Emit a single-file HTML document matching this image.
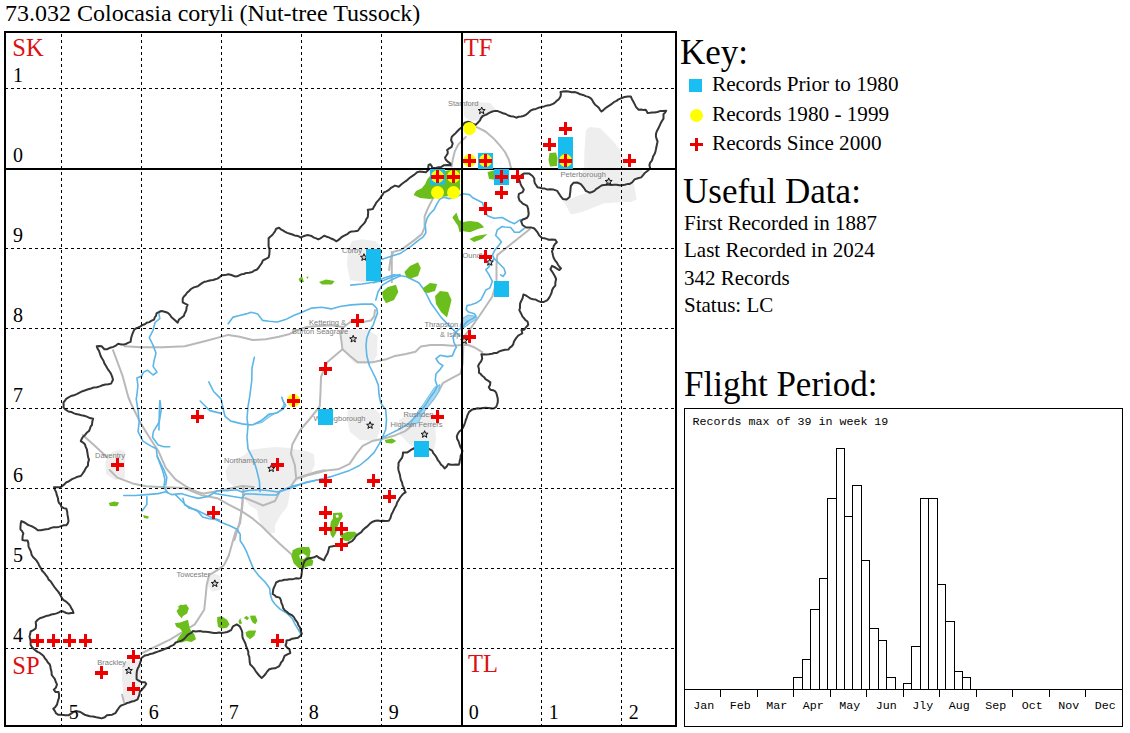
<!DOCTYPE html>
<html><head><meta charset="utf-8"><style>
html,body{margin:0;padding:0;background:#fff;width:1130px;height:733px;overflow:hidden}
svg{display:block}
</style></head><body>
<svg width="1130" height="733" viewBox="0 0 1130 733">
<rect width="1130" height="733" fill="#fff"/>
<polygon points="584.5,150.0 586.0,130.0 590.0,127.0 600.0,128.0 612.0,140.0 620.4,150.0 626.0,168.0 640.0,168.0 645.0,173.5 634.0,180.0 624.0,186.0 610.0,185.0 598.0,187.0 589.0,192.7 583.0,187.0 578.0,182.0 584.0,168.0" fill="#eeeeee"/>
<polygon points="561.0,198.3 570.0,199.0 580.0,195.0 594.4,190.9 602.0,186.0 622.0,186.0 634.0,184.0 636.6,199.6 631.0,202.0 624.2,202.0 604.3,203.3 582.0,212.0 570.9,214.4 564.7,203.3" fill="#eeeeee"/>
<polygon points="463.7,105.0 475.0,102.0 490.0,103.0 496.4,110.0 488.0,114.0 480.0,120.6 470.0,121.0 464.0,116.0" fill="#eeeeee"/>
<polygon points="347.9,250.0 352.0,241.0 362.0,239.3 375.0,241.0 382.2,248.0 382.2,282.2 365.0,282.2 350.0,280.0 347.0,265.0" fill="#eeeeee"/>
<polygon points="341.5,330.0 352.0,328.7 368.0,330.0 377.5,336.0 377.0,355.0 372.0,363.8 355.0,363.8 345.0,352.0 341.5,340.0" fill="#eeeeee"/>
<polygon points="348.0,410.0 362.0,408.2 375.0,409.0 380.8,415.0 380.0,430.0 376.0,440.9 360.0,440.0 350.0,432.0 347.0,420.0" fill="#eeeeee"/>
<polygon points="398.8,420.0 410.0,413.1 425.0,413.1 434.8,420.0 436.0,440.0 434.0,449.1 425.0,449.0 410.0,445.0 400.0,435.0" fill="#eeeeee"/>
<polygon points="249.5,450.0 260.0,448.5 275.0,447.0 287.0,447.8 299.0,450.0 308.0,451.5 314.0,454.5 314.8,465.0 311.0,472.5 305.0,478.5 299.0,480.0 293.0,484.5 290.0,492.0 288.5,501.0 287.0,507.0 281.0,514.5 275.0,525.0 275.0,532.5 269.0,534.0 263.0,528.0 258.5,519.0 257.0,510.0 249.5,505.5 245.0,499.5 243.5,492.0 233.0,486.0 227.0,480.0 225.5,471.0 228.5,465.0 234.5,460.5 245.0,454.5" fill="#eeeeee"/>
<polygon points="105.3,462.0 112.0,452.0 120.0,449.4 125.0,452.0 125.0,478.0 115.0,480.1 106.0,474.0" fill="#eeeeee"/>
<polygon points="207.5,576.0 214.0,573.5 220.6,576.0 220.6,590.0 212.0,591.5 207.5,585.0" fill="#eeeeee"/>
<polygon points="122.1,663.0 130.0,660.2 141.2,661.0 141.2,680.0 138.0,700.0 130.0,702.2 124.0,700.0 122.1,680.0" fill="#eeeeee"/>
<polyline points="141.0,347.3 162.8,347.3 184.7,346.2 206.5,340.8 228.3,334.9 239.6,336.8 252.7,340.0 265.8,339.2 278.9,336.8 288.8,334.3 297.0,330.2 306.8,327.0 318.2,326.1 331.3,325.3 343.0,327.0" fill="none" stroke="#b9b9b9" stroke-width="2" stroke-linejoin="round" stroke-linecap="round"/>
<polyline points="124.5,346.3 141.0,347.3" fill="none" stroke="#b9b9b9" stroke-width="2" stroke-linejoin="round" stroke-linecap="round"/>
<polyline points="113.0,350.2 122.6,375.9 128.3,397.0 131.5,404.8 141.0,423.9 150.6,439.2 158.2,450.7 165.8,467.9 175.4,479.3 186.8,487.0 196.4,491.7 204.0,493.6 219.3,490.8 242.2,486.0 253.7,487.0" fill="none" stroke="#b9b9b9" stroke-width="2" stroke-linejoin="round" stroke-linecap="round"/>
<polyline points="82.8,435.0 95.0,446.0 107.4,457.6" fill="none" stroke="#b9b9b9" stroke-width="2" stroke-linejoin="round" stroke-linecap="round"/>
<polyline points="109.6,470.0 117.3,477.6 132.6,483.4 145.9,486.2 165.0,487.2 184.1,488.1 200.9,494.9 217.3,498.2 228.8,504.7 241.9,511.3 251.7,517.8 261.5,526.0 271.3,535.8 280.0,544.0 290.3,553.2 297.4,562.1" fill="none" stroke="#b9b9b9" stroke-width="2" stroke-linejoin="round" stroke-linecap="round"/>
<polyline points="243.5,490.0 241.9,506.4 240.2,522.7 235.3,532.6 232.0,544.0 228.8,555.5 223.9,565.3 217.3,570.2 209.1,575.1 206.7,585.0 205.8,594.8 204.2,610.0 203.4,611.0 194.8,624.4 179.5,633.9 170.0,639.7 141.2,653.5" fill="none" stroke="#b9b9b9" stroke-width="2" stroke-linejoin="round" stroke-linecap="round"/>
<polyline points="342.5,349.2 327.2,362.3 321.0,377.0 320.5,392.0 319.8,406.4 309.3,419.5 300.2,430.0 292.3,444.4 291.0,453.6 294.9,465.3 296.2,478.4 291.0,486.3" fill="none" stroke="#b9b9b9" stroke-width="2" stroke-linejoin="round" stroke-linecap="round"/>
<polyline points="296.2,478.4 315.9,473.2 326.3,470.6 338.1,469.3 349.6,463.9 356.2,454.0 362.7,445.8 372.6,440.9 384.0,438.5 395.5,435.2 405.3,431.1 412.7,425.0 419.6,414.6 426.4,407.8 433.2,399.6 438.7,391.4 442.8,383.2 452.3,377.8 460.5,373.7 462.6,364.1 463.3,346.4 464.5,335.8 471.1,327.6 480.0,315.0 492.4,296.5 496.5,281.3 496.5,265.0 497.3,255.1 530.0,229.0" fill="none" stroke="#b9b9b9" stroke-width="2" stroke-linejoin="round" stroke-linecap="round"/>
<polyline points="342.5,349.2 350.0,356.0 357.8,362.2 372.6,362.2 387.3,358.9 395.0,355.9 405.9,353.9 415.5,351.8 420.9,346.4 430.5,345.0 442.8,345.0 452.3,345.7 461.9,345.0 467.5,344.7 474.0,347.2 482.2,352.1" fill="none" stroke="#b9b9b9" stroke-width="2" stroke-linejoin="round" stroke-linecap="round"/>
<polyline points="391.8,251.7 391.8,282.2" fill="none" stroke="#b9b9b9" stroke-width="2" stroke-linejoin="round" stroke-linecap="round"/>
<polyline points="389.1,270.0 390.5,260.0 393.2,251.9 401.4,249.8 415.0,239.6 421.8,234.1 424.6,227.3 424.6,216.4 427.3,209.6 430.0,204.1 432.8,198.6 440.0,187.0" fill="none" stroke="#b9b9b9" stroke-width="2" stroke-linejoin="round" stroke-linecap="round"/>
<polyline points="476.8,127.1 485.5,131.5 494.2,139.1 500.0,145.7 505.0,152.0 509.0,160.0 511.0,168.0" fill="none" stroke="#b9b9b9" stroke-width="2" stroke-linejoin="round" stroke-linecap="round"/>
<polyline points="465.8,136.9 458.2,144.6 454.9,151.1 452.7,159.8 451.7,166.4" fill="none" stroke="#b9b9b9" stroke-width="2" stroke-linejoin="round" stroke-linecap="round"/>
<polyline points="122.1,694.6 124.0,702.2" fill="none" stroke="#b9b9b9" stroke-width="2" stroke-linejoin="round" stroke-linecap="round"/>
<polyline points="343.0,327.5 351.3,321.3 362.7,322.1 370.9,320.5 374.2,316.4 375.0,310.0" fill="none" stroke="#b9b9b9" stroke-width="2" stroke-linejoin="round" stroke-linecap="round"/>
<polyline points="342.5,349.2 340.5,334.3 343.0,327.5" fill="none" stroke="#b9b9b9" stroke-width="2" stroke-linejoin="round" stroke-linecap="round"/>
<polyline points="279.5,492.0 275.0,501.0 263.0,505.5 252.5,501.0 245.0,498.0" fill="none" stroke="#b9b9b9" stroke-width="2" stroke-linejoin="round" stroke-linecap="round"/>
<polyline points="296.8,478.5 305.0,475.5 317.0,471.8 325.0,470.3" fill="none" stroke="#b9b9b9" stroke-width="2" stroke-linejoin="round" stroke-linecap="round"/>
<polyline points="243.5,486.0 242.8,499.5 242.0,510.0 239.0,525.0 234.5,540.0" fill="none" stroke="#b9b9b9" stroke-width="2" stroke-linejoin="round" stroke-linecap="round"/>
<polygon points="253.0,424.7 260.9,420.8 268.7,414.3 276.6,413.0 283.1,409.0 285.7,405.1 283.1,401.2 281.8,397.2 284.0,404.0 281.0,410.0 270.0,416.5 262.0,422.5" fill="#a8d8f0" stroke="#6cc0ea" stroke-width="1"/>
<polygon points="434.6,387.3 429.1,395.5 423.7,403.7 419.6,409.2 414.1,417.4 410.0,425.6 413.0,424.0 418.2,422.8 422.3,414.6 429.1,405.1 434.6,398.3 438.7,391.4 440.0,384.6" fill="#a8d8f0" stroke="#6cc0ea" stroke-width="1"/>
<polygon points="463.0,318.0 468.0,315.0 474.0,316.0 477.6,318.0 472.0,322.0 466.0,326.0 462.0,329.3 460.0,326.0" fill="#a8d8f0" stroke="#6cc0ea" stroke-width="1"/>
<polyline points="123.8,495.5 135.3,495.5 146.7,494.6 158.2,493.6 165.8,491.7 171.6,494.6 181.1,493.6 190.7,496.5 198.3,498.4 207.9,496.5 217.4,490.8 227.0,490.8 236.5,489.8 242.0,492.0 248.0,490.5 258.5,489.8 267.5,490.5 278.0,492.0 285.5,489.0 293.0,486.0 305.0,483.0 317.0,480.0 325.0,478.5" fill="none" stroke="#5db6e8" stroke-width="1.6" stroke-linejoin="round" stroke-linecap="round"/>
<polyline points="175.4,494.6 183.0,502.2 188.8,508.0 196.4,509.9 204.0,513.7 211.7,517.5 219.3,520.0" fill="none" stroke="#5db6e8" stroke-width="1.6" stroke-linejoin="round" stroke-linecap="round"/>
<polyline points="215.0,493.5 224.0,495.0 233.0,496.5 242.0,498.0 245.0,494.0 252.0,494.0 260.0,494.5 270.0,495.0 276.5,495.0 279.5,492.0" fill="none" stroke="#5db6e8" stroke-width="1.6" stroke-linejoin="round" stroke-linecap="round"/>
<polyline points="157.2,456.4 163.9,469.8 166.8,477.4 165.8,485.0" fill="none" stroke="#5db6e8" stroke-width="1.6" stroke-linejoin="round" stroke-linecap="round"/>
<polyline points="182.9,498.2 184.6,504.7 191.1,508.0 197.7,511.3 202.6,517.0 209.1,518.7 215.7,519.5 222.2,522.7 230.4,526.0 236.9,529.3 240.2,534.2 240.2,540.8 243.5,545.7 246.8,552.2 250.0,560.4 253.3,568.6 258.2,575.1 264.8,581.7 269.7,588.2 270.2,594.1 272.0,600.0 274.6,603.7 280.0,609.1 286.9,613.2 292.3,618.7 295.0,624.1 299.1,631.0 301.0,634.0" fill="none" stroke="#5db6e8" stroke-width="1.6" stroke-linejoin="round" stroke-linecap="round"/>
<polyline points="146.9,496.7 146.9,504.4 142.1,511.0" fill="none" stroke="#5db6e8" stroke-width="1.6" stroke-linejoin="round" stroke-linecap="round"/>
<polyline points="158.9,312.9 159.8,318.6 155.0,322.5 153.1,330.1 149.3,337.7 153.1,345.4 156.0,353.0 154.1,360.7 153.1,366.4 157.0,372.1 153.1,375.0 147.4,370.2 143.6,372.1 141.7,375.9 136.9,377.9 137.9,385.5 136.9,395.0 136.2,399.1 138.1,410.6 139.1,422.0 138.1,431.6 142.9,441.1 150.6,445.9 156.3,448.8 157.2,456.4 160.1,464.0 163.0,471.7 164.9,479.3 163.9,487.0 167.7,492.7" fill="none" stroke="#5db6e8" stroke-width="1.6" stroke-linejoin="round" stroke-linecap="round"/>
<polyline points="160.1,401.0 161.1,410.6 159.2,422.0 153.4,431.6 152.5,437.3 158.2,444.9 163.9,446.8 169.7,446.8" fill="none" stroke="#5db6e8" stroke-width="1.6" stroke-linejoin="round" stroke-linecap="round"/>
<polyline points="159.8,400.8 159.4,410.0 158.9,430.0" fill="none" stroke="#5db6e8" stroke-width="1.6" stroke-linejoin="round" stroke-linecap="round"/>
<polyline points="254.4,357.2 252.0,368.0 251.8,380.0 249.9,395.3 248.0,406.7 247.0,418.2 248.0,425.8 247.0,437.3 248.0,448.8 253.7,460.2 256.6,469.8 259.4,481.2 260.0,491.7" fill="none" stroke="#5db6e8" stroke-width="1.6" stroke-linejoin="round" stroke-linecap="round"/>
<polyline points="208.8,381.9 213.6,391.5 221.2,399.1 223.1,408.6 225.0,416.3 230.8,421.1 242.2,423.9 249.9,424.9 253.0,424.7 260.9,420.8 268.7,414.3 276.6,413.0 283.1,409.0 285.7,405.1 283.1,401.2 281.8,397.2" fill="none" stroke="#5db6e8" stroke-width="1.6" stroke-linejoin="round" stroke-linecap="round"/>
<polyline points="200.2,401.0 205.9,406.7 209.8,410.6 221.2,413.4" fill="none" stroke="#5db6e8" stroke-width="1.6" stroke-linejoin="round" stroke-linecap="round"/>
<polyline points="228.2,323.7 233.1,317.1 239.6,315.5 246.2,313.9 251.1,312.2 257.7,313.9 262.6,320.4 269.1,321.2 277.3,322.0 285.5,319.6 293.7,315.5 301.9,312.2 311.7,308.1 321.5,307.3 331.3,308.9 340.0,306.5 351.3,304.9 362.7,304.1 372.6,304.1 376.7,308.2 377.5,313.1 375.0,319.6 373.4,324.6 369.3,331.1 366.8,337.7 366.0,345.8 366.8,355.7 369.3,365.5 372.6,372.0 375.8,378.6 378.3,385.1 379.1,395.0 380.8,403.1 385.7,409.8 386.5,419.6 385.7,429.5 382.4,437.7" fill="none" stroke="#5db6e8" stroke-width="1.6" stroke-linejoin="round" stroke-linecap="round"/>
<polyline points="375.8,300.0 378.0,292.0 382.2,285.1 390.0,280.5 400.0,276.0" fill="none" stroke="#5db6e8" stroke-width="1.6" stroke-linejoin="round" stroke-linecap="round"/>
<polyline points="350.7,285.1 362.0,284.0 372.0,282.5 382.2,281.0 392.0,277.0 400.0,274.6" fill="none" stroke="#5db6e8" stroke-width="1.6" stroke-linejoin="round" stroke-linecap="round"/>
<polyline points="382.2,259.3 392.0,256.0 400.0,253.6 410.9,246.4 417.7,240.9 423.2,236.8 425.9,232.8 425.3,224.6 427.3,217.7 430.0,213.7 434.1,209.6 436.8,204.1 439.6,199.3 443.7,197.3 449.1,198.6 454.6,197.3 462.9,193.7 469.5,194.6 472.7,197.8 477.7,200.3 482.6,202.7 484.2,209.3 487.5,215.8 494.0,218.3 502.2,217.5 509.8,221.8 514.5,223.7 519.3,220.3 521.0,219.5" fill="none" stroke="#5db6e8" stroke-width="1.6" stroke-linejoin="round" stroke-linecap="round"/>
<polyline points="280.0,491.6 291.0,488.0 305.4,482.4 318.5,479.8 330.0,476.9 339.8,473.7 349.6,470.4 359.5,465.5 367.7,458.9 374.2,452.4 379.1,444.2 382.4,437.7 388.9,434.4 398.8,429.5 408.0,424.0 414.1,418.0 418.2,414.0 422.3,409.2 426.4,403.7 430.5,396.9 434.6,391.4 437.3,386.0 435.3,380.5 436.0,373.7 440.0,369.6 442.8,365.5 438.7,362.8 436.0,358.7 440.0,355.3 446.9,356.6 452.3,355.9 455.1,349.1 456.4,347.3 453.9,342.4 453.1,337.5 455.5,332.6 458.8,329.3 462.9,327.6 464.5,324.4 467.8,321.1 472.7,318.6 476.0,316.2 474.4,313.7 468.6,312.1 466.2,309.6 467.0,305.5 471.1,304.7 476.0,303.1 480.9,299.8 483.4,294.9 485.8,290.0 489.9,287.9 492.4,281.3 489.1,274.8 485.8,269.9 489.1,266.6 494.0,258.4 492.4,255.1 494.8,250.2 498.9,245.3 501.4,242.0 498.9,238.8 495.7,235.5 497.3,229.8 502.2,226.5 505.0,227.0 510.7,227.5 514.5,232.3 519.3,232.3 524.1,228.5" fill="none" stroke="#5db6e8" stroke-width="1.6" stroke-linejoin="round" stroke-linecap="round"/>
<polyline points="494.0,258.4 498.9,263.3 503.9,268.2 505.5,273.1 503.0,276.4 500.6,274.8" fill="none" stroke="#5db6e8" stroke-width="1.6" stroke-linejoin="round" stroke-linecap="round"/>
<polyline points="373.7,282.8 384.0,278.0 394.2,274.7 406.5,276.7 418.8,282.8 424.9,291.0 431.0,303.3 441.3,317.6 451.5,327.9 459.7,336.1" fill="none" stroke="#5db6e8" stroke-width="1.6" stroke-linejoin="round" stroke-linecap="round"/>
<polygon points="549.5,153.0 556.0,152.5 557.5,158.0 557.0,166.0 550.0,166.5 548.5,160.0" fill="#6cbe1c"/>
<polygon points="452.3,217.5 456.4,212.6 459.0,220.0 463.0,222.0 470.0,221.0 478.0,222.0 481.0,224.0 484.2,227.3 478.0,229.0 470.0,232.2 462.0,231.0 459.6,232.2 458.0,226.0" fill="#6cbe1c"/>
<polygon points="469.5,239.0 476.0,236.0 487.5,233.9 482.0,239.0 474.0,242.0" fill="#6cbe1c"/>
<polygon points="487.5,172.0 495.7,170.0 495.7,179.8 489.0,179.0" fill="#6cbe1c"/>
<polygon points="413.6,195.0 416.0,191.0 421.8,188.2 425.2,184.1 427.3,179.3 430.0,176.0 440.0,172.0 455.0,169.0 460.0,169.0 460.0,190.0 450.0,196.0 440.0,197.0 430.0,199.0 420.0,198.0" fill="#6cbe1c"/>
<polygon points="382.0,292.0 388.0,287.0 396.0,284.7 398.3,292.0 394.0,300.0 386.0,303.2 383.0,298.0" fill="#6cbe1c"/>
<polygon points="404.4,272.0 410.0,266.0 418.0,262.3 420.8,268.0 418.0,276.0 410.0,278.8 406.0,276.0" fill="#6cbe1c"/>
<polygon points="298.6,279.0 302.0,276.2 304.0,281.9 300.0,281.9" fill="#6cbe1c"/>
<polygon points="306.0,277.0 308.4,276.5 308.0,279.0" fill="#6cbe1c"/>
<polygon points="319.0,282.0 326.0,279.5 334.6,281.0 332.0,284.4 322.0,284.4" fill="#6cbe1c"/>
<polygon points="423.0,288.0 430.0,283.0 437.2,284.0 435.0,291.0 428.0,293.0 424.0,292.0" fill="#6cbe1c"/>
<polygon points="435.1,296.0 440.0,291.1 448.0,292.0 451.5,300.0 449.0,310.0 447.0,317.6 441.0,312.0 436.0,304.0" fill="#6cbe1c"/>
<polygon points="108.7,503.0 114.0,501.5 119.2,502.5 117.0,506.3 110.0,506.0" fill="#6cbe1c"/>
<polygon points="143.1,515.0 148.8,516.5 148.0,518.7 144.0,518.0" fill="#6cbe1c"/>
<polygon points="292.6,550.2 297.0,548.0 302.5,547.0 309.0,547.0 310.6,551.3 309.6,556.8 313.4,561.1 312.3,565.5 306.8,566.6 302.5,569.9 298.1,567.7 293.7,563.3 291.5,556.8" fill="#6cbe1c"/>
<polygon points="333.0,513.1 341.8,512.6 342.9,516.4 339.6,521.8 337.4,527.3 336.3,532.7 333.0,538.2 330.8,534.9 329.7,529.5 330.8,521.8 333.0,518.6" fill="#6cbe1c"/>
<polygon points="339.6,534.9 347.2,531.7 354.8,531.7 357.0,533.8 352.7,538.2 348.3,541.5 344.0,540.4" fill="#6cbe1c"/>
<polygon points="176.5,610.9 180.9,605.6 186.2,604.3 188.9,608.3 187.1,613.6 182.7,616.2 181.8,618.5 178.3,614.5" fill="#6cbe1c"/>
<polygon points="174.7,623.3 180.0,622.4 188.0,619.8 189.8,628.6 191.5,631.3 194.2,633.9 196.0,639.2 191.5,641.9 186.2,641.0 180.9,642.8 176.5,641.0 179.2,636.6 182.7,632.2 180.0,628.6 176.5,626.9" fill="#6cbe1c"/>
<polygon points="217.2,617.1 221.6,616.2 227.0,619.8 229.6,624.2 227.0,627.7 221.6,628.6 218.1,626.9 217.2,621.5" fill="#6cbe1c"/>
<polygon points="238.5,621.5 240.2,618.0 242.0,623.3 239.8,624.6" fill="#6cbe1c"/>
<polygon points="243.8,618.0 246.4,615.8 249.1,618.0 247.3,620.2" fill="#6cbe1c"/>
<polygon points="250.0,615.8 255.3,615.4 257.5,620.7 255.3,624.2 252.6,622.4 250.8,618.9" fill="#6cbe1c"/>
<polygon points="245.5,632.2 249.1,630.4 256.2,630.4 254.4,635.7 250.0,639.2 246.4,636.6" fill="#6cbe1c"/>
<polygon points="384.8,440.0 392.0,438.5 396.3,441.0 392.0,443.4 386.0,443.0" fill="#6cbe1c"/>
<polygon points="177.5,607.0 181.0,604.6 184.0,606.0 182.0,609.0" fill="#6cbe1c"/>
<polygon points="299.2,555.0 303.0,553.5 306.8,556.0 304.0,559.0 300.0,558.5" fill="#fff"/>
<polygon points="335.5,515.5 338.0,514.5 339.0,517.0 336.5,518.0" fill="#fff"/>
<polygon points="462.0,127.1 463.2,124.8 464.7,122.7 468.0,121.7 470.7,122.5 473.1,124.0 475.7,124.9 477.8,122.7 480.0,120.4 481.0,118.0 482.7,116.0 484.9,115.1 487.1,114.2 489.7,112.7 492.4,111.5 495.0,110.9 497.7,111.1 500.3,112.2 503.0,113.3 505.8,114.0 508.3,115.5 511.0,116.2 513.7,116.6 516.3,117.7 518.6,116.8 521.0,116.5 523.4,116.0 525.8,114.9 527.8,113.3 530.4,110.7 533.0,109.5 535.8,108.9 538.4,107.8 541.1,107.1 544.2,106.4 547.3,105.4 550.5,104.9 553.5,103.6 555.3,102.2 557.0,100.6 558.8,99.2 560.5,96.5 560.9,94.3 560.5,92.1 563.2,91.6 565.9,91.2 568.5,91.6 571.7,92.2 575.0,92.1 577.7,93.0 580.3,94.3 583.1,94.9 585.6,96.1 588.4,96.9 590.9,98.3 592.4,100.4 593.6,102.7 595.1,104.7 597.1,106.2 598.8,107.8 600.0,109.8 601.5,111.5 603.4,110.1 605.0,108.5 606.9,107.1 609.6,105.4 612.2,103.6 614.2,101.9 616.6,100.9 618.6,99.3 621.0,98.3 624.6,97.0 627.7,96.5 630.8,96.5 632.0,99.2 633.4,101.8 634.8,104.4 636.1,107.1 638.7,109.8 641.1,109.6 643.4,109.9 645.8,109.8 647.6,112.9 649.9,112.7 652.3,112.4 654.6,112.4 657.4,112.0 660.0,111.1 663.1,111.1 666.2,110.7 665.0,112.6 663.5,114.2 663.5,118.6 662.1,120.8 660.8,123.1 659.6,125.7 658.4,128.3 656.7,131.5 656.0,133.9 655.9,136.5 656.6,139.0 657.6,141.4 656.7,145.5 655.9,149.5 655.3,152.1 654.3,154.5 653.1,156.4 652.6,158.6 651.7,160.8 650.2,162.6 649.4,165.1 650.2,168.4 647.7,170.8 644.5,173.3 642.9,175.4 641.2,177.4 637.9,178.2 634.6,179.4 632.2,182.3 629.7,183.9 627.2,184.1 624.8,184.7 621.7,185.3 619.2,185.3 616.7,184.7 614.2,184.7 611.8,185.1 609.3,184.7 606.8,184.7 604.3,184.9 601.9,185.3 600.0,186.5 598.1,187.8 596.0,189.1 594.4,190.9 592.0,192.0 589.5,192.7 585.8,190.9 584.7,189.0 583.3,187.2 580.8,184.1 577.1,182.5 573.4,182.8 570.9,185.9 570.5,189.0 570.3,192.1 569.9,194.6 569.6,197.1 566.6,199.6 562.8,198.9 560.4,195.8 558.8,193.4 557.3,190.9 553.5,189.6 550.4,189.3 547.3,189.6 544.9,188.6 542.4,188.4 539.9,187.8 537.4,187.2 536.3,185.3 535.0,183.5 534.3,181.1 534.3,178.5 532.5,176.0 529.3,173.6 526.5,173.4 523.8,173.6 521.3,175.2 519.0,177.0 519.1,179.5 520.0,181.8 520.6,184.1 521.7,186.2 523.8,189.5 522.7,192.2 518.9,193.8 518.4,197.1 519.5,200.4 521.2,201.9 522.7,203.7 524.9,204.7 527.1,205.8 528.2,209.1 528.3,211.3 528.7,213.5 528.3,215.8 527.1,217.8 524.9,218.7 522.7,219.5 521.1,221.1 522.5,225.0 526.0,227.5 529.1,227.5 531.6,227.6 534.0,228.3 535.9,230.3 537.6,232.4 538.9,234.8 540.4,236.6 542.2,238.1 544.4,238.3 546.6,238.9 548.7,239.7 552.0,239.6 555.3,239.7 556.9,242.2 555.0,244.0 553.6,246.3 553.2,248.9 552.0,251.2 552.6,253.4 553.0,255.5 553.6,257.7 555.0,260.3 556.9,262.6 558.0,264.7 559.4,266.7 561.0,268.4 559.4,270.0 557.2,268.9 555.3,267.5 552.0,265.9 550.4,269.2 552.1,271.6 553.6,274.1 555.0,276.5 556.1,279.0 555.4,282.2 555.3,285.5 553.3,287.8 552.0,290.5 551.5,293.0 550.4,295.4 549.0,298.0 547.1,300.3 543.8,301.9 540.5,301.9 537.9,300.9 535.6,299.5 533.1,299.3 530.7,298.6 528.2,297.0 525.8,295.4 523.4,294.5 522.5,298.6 521.2,301.0 520.1,303.5 520.0,305.7 520.0,308.0 519.3,310.1 520.4,312.2 521.5,314.4 522.5,316.6 524.1,318.3 525.5,320.2 527.5,321.5 528.3,324.8 526.1,327.1 524.2,329.7 521.5,330.0 522.3,333.3 520.2,334.5 518.2,335.7 516.5,337.7 515.0,339.8 513.8,341.9 513.2,344.4 511.7,346.4 509.8,347.7 508.4,349.6 505.1,349.8 501.9,350.5 499.3,351.4 497.0,352.9 494.5,353.0 492.0,353.7 488.8,354.2 485.5,354.6 481.4,354.2 481.9,356.4 482.2,358.7 481.1,361.3 479.4,363.5 478.1,366.0 478.8,368.2 479.0,370.4 478.9,372.6 480.7,374.0 482.2,375.8 484.1,377.2 485.5,379.1 488.0,380.6 490.4,382.4 490.0,385.0 488.8,387.3 490.4,389.8 493.0,390.2 495.3,391.4 496.4,393.3 497.0,395.5 497.8,398.7 497.8,402.0 497.1,404.5 496.1,407.0 494.2,408.2 492.0,408.6 488.8,407.9 485.5,407.8 482.8,407.9 480.1,408.4 477.3,408.3 474.9,409.1 472.4,409.4 469.1,411.9 467.5,415.1 466.8,417.6 465.8,420.0 465.1,422.5 464.2,425.0 462.6,428.2 461.2,430.1 459.3,431.5 457.8,433.8 456.8,436.4 457.2,439.0 458.5,441.3 459.3,443.7 460.1,446.2 461.3,448.4 462.4,450.6 461.9,453.4 460.6,456.0 460.5,458.3 459.8,460.4 459.5,462.6 458.8,464.8 456.1,464.5 453.5,464.8 450.8,464.7 448.2,464.0 446.7,466.5 444.6,468.4 443.1,466.3 441.1,464.8 439.7,462.4 437.9,460.2 436.7,457.7 435.2,455.3 433.3,453.2 432.2,450.6 428.7,448.9 426.3,448.7 424.0,448.2 421.6,448.1 419.2,448.1 416.9,448.4 414.5,448.0 411.0,449.8 409.3,451.2 407.4,452.4 403.0,452.4 402.8,455.1 402.1,457.7 400.1,460.3 398.5,463.1 398.5,465.5 398.2,467.8 398.5,470.2 399.2,472.5 399.9,474.8 400.3,477.2 400.9,480.0 402.1,482.6 402.6,485.4 403.9,487.9 404.5,490.2 405.6,492.3 403.7,493.4 402.1,495.0 400.1,497.5 398.5,500.3 397.1,502.6 396.4,505.1 395.0,507.4 393.8,509.8 392.7,512.2 391.4,514.5 390.9,516.7 390.1,518.8 388.8,520.7 385.7,520.9 382.6,520.7 380.2,520.9 377.9,520.5 375.5,520.7 372.7,521.7 370.2,523.4 368.4,525.2 366.6,526.9 364.6,528.4 362.8,530.1 361.3,532.2 357.7,534.6 355.6,536.4 354.3,538.8 352.4,540.8 350.1,542.2 347.8,543.4 345.3,544.3 343.1,545.0 340.9,545.5 338.6,545.5 336.4,546.1 334.0,546.0 331.6,546.4 329.3,547.0 328.5,550.1 327.6,553.2 326.3,555.5 325.0,557.8 324.0,560.3 320.5,558.5 318.5,557.5 316.9,555.9 313.4,557.6 310.7,557.9 308.0,558.5 306.0,559.6 304.5,561.2 303.4,564.2 302.7,567.4 302.0,570.0 301.8,572.7 301.4,575.4 300.9,578.0 298.6,578.6 296.2,578.3 293.9,578.9 291.6,579.3 289.1,579.2 286.8,579.8 284.4,579.7 282.1,580.5 279.7,580.7 276.1,582.5 275.3,584.7 274.3,586.9 273.3,589.2 273.0,591.6 272.6,594.0 274.5,595.1 276.1,596.7 279.7,597.6 280.9,600.1 281.4,602.9 282.6,605.4 283.2,608.2 284.7,610.2 286.8,611.7 288.4,613.3 290.3,614.4 292.3,615.5 293.9,617.1 295.4,619.9 297.4,622.4 298.4,625.2 300.1,627.7 300.8,630.8 301.8,633.9 300.0,635.9 298.0,637.7 295.1,638.2 292.2,638.7 289.5,640.0 286.5,640.6 286.4,643.1 285.5,645.4 287.2,647.6 289.4,649.2 290.3,653.0 287.4,654.3 284.6,655.9 283.6,658.3 282.7,660.7 281.1,662.4 280.2,664.5 278.9,666.4 275.0,668.3 272.1,668.5 269.3,669.3 267.2,671.5 265.5,674.0 263.8,676.1 261.7,677.9 259.6,676.1 257.9,674.0 256.4,672.2 255.1,670.3 254.0,668.3 252.2,666.3 250.2,664.5 249.7,662.0 249.5,659.4 249.3,656.8 248.3,654.4 248.3,651.6 247.3,649.2 246.2,646.4 245.4,643.5 244.0,640.6 242.6,637.7 242.3,635.2 242.3,632.6 241.6,630.1 239.7,626.3 236.8,624.4 233.0,626.3 231.1,630.1 227.3,632.0 224.5,632.6 221.6,633.0 219.0,632.6 216.5,633.0 213.9,633.0 211.1,632.5 208.2,632.0 205.7,631.7 203.1,631.8 200.6,631.1 198.0,631.2 195.5,631.4 192.9,631.1 191.3,632.9 189.1,633.9 187.0,635.6 185.3,637.7 183.6,639.4 181.5,640.6 178.6,641.6 175.7,642.5 173.7,644.9 170.8,646.2 168.0,647.8 165.4,648.7 162.9,649.9 160.3,650.7 157.8,651.6 155.2,652.5 152.7,653.5 150.1,653.9 147.7,655.1 145.0,655.4 143.1,656.8 141.2,658.3 140.7,661.3 139.8,664.2 138.9,666.4 137.7,668.5 136.9,671.1 136.6,673.8 136.6,676.5 136.6,679.1 138.8,680.7 141.9,682.3 145.1,682.3 146.2,683.9 144.6,686.5 141.9,689.7 139.8,691.9 139.3,695.0 138.4,697.1 137.7,699.3 134.5,700.9 131.8,701.5 129.2,702.5 127.0,703.0 125.0,704.1 122.9,704.9 120.7,705.7 119.0,707.7 117.5,709.9 115.4,713.1 112.2,714.7 109.5,714.9 106.9,715.2 104.8,717.3 101.6,718.4 99.0,717.8 96.3,717.3 93.1,716.6 89.9,716.3 87.2,715.5 84.6,714.7 82.5,713.3 80.4,712.0 78.2,711.5 76.1,711.0 73.8,711.7 71.9,713.1 68.7,715.2 65.5,715.2 61.2,714.7 58.1,714.7 55.9,713.1 54.8,710.9 53.3,708.8 55.4,706.9 57.0,704.6 58.1,700.4 59.0,697.8 59.1,695.0 58.6,691.9 55.4,691.9 53.8,689.7 55.9,687.6 57.0,684.4 55.7,681.8 54.9,679.1 53.3,677.0 51.7,674.9 51.5,671.6 50.6,668.5 50.4,666.3 49.6,664.2 47.7,662.3 46.4,660.0 44.8,658.3 43.8,656.3 41.8,654.6 39.8,652.9 37.5,651.9 35.5,650.4 33.6,648.8 31.8,647.0 30.6,644.7 30.6,640.7 29.5,636.6 30.2,634.1 30.6,631.5 33.3,630.2 35.7,628.4 36.1,625.3 35.7,622.2 37.5,620.0 39.8,618.2 42.9,617.3 45.9,616.1 48.7,615.6 51.3,614.5 54.1,614.1 56.6,613.4 59.0,612.4 61.2,611.0 63.8,611.8 66.3,613.0 68.7,613.4 71.1,612.9 73.5,613.0 72.5,610.0 71.1,607.9 70.1,605.6 68.4,603.8 66.0,601.6 63.3,599.8 61.8,597.9 60.7,595.7 59.5,593.6 58.2,591.6 56.5,589.6 54.9,587.7 53.4,585.5 52.0,583.4 50.6,581.2 48.6,579.6 47.5,577.2 45.9,575.2 44.2,572.9 42.1,570.7 40.8,568.1 39.3,565.8 38.2,563.2 36.7,560.9 35.0,558.9 33.0,557.1 31.6,554.8 31.0,551.9 29.8,549.2 28.5,546.6 28.4,543.4 27.5,540.4 24.9,540.6 22.4,540.0 22.5,537.8 22.7,535.5 23.4,533.4 22.1,531.2 20.4,529.3 20.5,526.5 20.7,523.8 21.4,521.1 23.5,522.0 25.5,523.1 27.4,524.5 29.4,525.4 31.6,526.2 33.8,527.4 35.9,528.7 37.8,530.3 40.6,530.3 43.3,529.7 46.0,529.3 48.6,529.0 51.0,527.9 53.6,527.3 56.2,527.2 58.8,526.9 61.3,526.1 63.8,525.3 66.4,525.2 67.8,523.3 68.5,521.1 68.1,518.0 67.5,514.9 67.2,511.8 66.4,508.8 63.7,508.1 61.3,506.7 60.6,504.5 58.9,502.8 58.2,500.6 57.9,497.8 56.8,495.1 56.2,492.4 55.0,489.9 54.1,487.3 57.2,487.3 60.3,487.3 63.4,485.2 66.4,482.2 68.6,481.5 70.5,480.1 72.5,478.9 74.6,478.1 77.6,476.7 80.8,476.0 82.3,474.0 83.8,471.9 85.0,469.7 86.2,467.6 87.9,465.8 88.1,462.6 89.0,459.6 88.1,457.1 87.7,454.6 87.3,452.0 86.9,449.4 85.7,446.9 84.9,444.3 83.0,442.6 80.8,441.2 81.6,439.1 82.8,437.1 84.9,435.1 86.7,432.8 89.0,431.0 89.9,428.9 90.6,426.7 92.0,424.8 92.3,421.7 93.1,418.7 89.9,418.1 86.9,416.6 84.2,415.7 81.4,415.2 78.7,414.6 76.1,414.1 73.6,413.1 71.2,411.9 68.5,411.5 65.7,409.7 63.4,407.4 63.7,405.0 63.4,402.7 64.8,400.8 66.2,398.9 68.6,397.4 71.0,396.0 73.9,395.3 76.7,394.1 79.6,392.6 82.5,391.2 85.4,390.3 88.2,389.3 91.1,388.5 93.9,387.4 96.9,387.3 99.7,386.4 102.5,385.3 105.4,384.5 108.3,384.3 111.1,383.6 113.0,379.8 112.2,376.8 111.1,374.0 109.9,372.0 108.5,370.2 107.3,368.3 105.9,365.8 104.4,363.4 103.5,360.7 101.9,358.3 100.6,355.7 99.7,353.0 98.9,350.7 97.6,348.6 96.8,346.3 99.2,346.0 101.6,346.3 104.4,349.2 107.3,349.2 110.2,347.7 113.3,346.9 115.9,345.6 118.2,343.7 121.3,344.4 124.4,344.4 126.5,343.7 128.5,342.6 130.6,341.9 131.0,338.8 131.8,335.8 132.5,333.7 133.4,331.7 134.3,329.6 136.2,328.3 138.4,327.4 140.5,326.4 142.5,325.0 144.8,324.3 146.7,322.7 149.3,322.1 151.6,320.7 154.1,319.6 154.7,317.5 156.1,315.6 156.5,313.4 158.9,312.0 161.5,311.0 164.6,311.8 167.7,312.8 169.9,314.7 171.5,317.2 173.6,319.0 175.6,320.8 177.7,322.7 178.9,319.6 181.4,317.8 183.9,315.9 184.5,313.7 185.6,311.8 186.4,309.7 186.6,307.1 187.6,304.8 185.1,303.7 182.7,302.3 182.7,298.6 183.9,296.5 185.7,294.8 187.0,292.8 188.8,291.2 191.0,289.0 193.8,287.4 197.8,286.2 199.9,284.6 202.0,283.1 204.3,281.8 206.5,281.4 208.7,280.8 210.9,280.3 213.1,280.0 215.3,279.3 217.4,278.6 219.7,277.1 221.8,275.3 225.1,275.1 228.3,274.2 230.5,274.8 232.7,275.5 234.9,276.4 237.2,276.3 239.2,275.3 241.3,274.3 243.7,274.0 245.8,273.1 249.1,272.7 252.3,272.0 254.3,270.5 256.7,269.8 258.6,267.8 260.0,265.5 261.8,263.1 262.9,260.3 265.8,259.0 268.6,257.4 269.3,254.6 269.5,251.7 269.5,249.1 268.6,246.6 268.6,244.0 268.6,241.2 268.6,238.3 270.2,236.7 272.0,235.3 273.4,233.5 275.0,231.3 276.2,228.8 279.1,227.8 280.8,229.3 282.9,230.4 284.8,231.6 287.2,232.9 289.9,233.7 292.5,234.5 294.5,235.4 296.8,235.8 298.9,236.4 300.9,237.6 302.8,236.5 305.0,235.8 307.1,235.1 309.6,235.4 312.0,236.3 314.0,237.6 316.2,238.4 318.3,239.4 320.4,238.3 322.4,237.0 324.4,235.7 326.8,236.8 329.4,237.6 331.7,238.8 334.1,239.7 336.2,241.3 338.2,240.1 340.1,238.6 341.8,237.0 343.8,235.9 345.8,234.8 347.8,233.8 349.5,232.2 351.7,231.4 354.8,231.3 357.9,230.8 359.3,228.8 360.7,226.9 362.4,225.1 364.1,223.4 365.5,221.4 366.3,219.1 367.8,217.2 368.0,214.7 368.2,212.2 367.8,209.7 370.3,209.4 372.8,209.1 373.9,206.8 375.3,204.6 376.5,202.3 378.3,200.3 380.0,198.3 381.5,196.1 382.8,194.3 383.9,192.4 386.4,191.3 388.8,189.9 390.6,188.2 392.8,186.8 395.0,185.6 398.8,186.8 401.2,184.5 403.8,182.5 406.5,180.7 408.9,178.6 411.1,176.8 413.6,175.2 415.4,173.7 417.1,172.2 419.4,171.6 421.8,171.8 425.9,172.2 428.6,169.8 428.2,167.4 428.6,165.0 430.4,164.3 431.7,166.0 432.1,167.7 436.0,168.0 438.4,167.3 440.9,167.1 443.7,165.3 447.7,165.0 450.5,165.3 450.5,163.6 447.7,161.6 445.7,159.5 445.0,157.5 446.4,155.5 447.7,153.4 447.7,151.4 447.1,150.0 448.4,148.9 451.7,146.8 452.7,143.5 451.1,140.2 451.7,136.9 453.8,134.7 455.6,133.2 457.1,131.5 459.3,129.3" fill="none" stroke="#363636" stroke-width="2" stroke-linejoin="round"/>
<text x="448" y="105.5" font-family="Liberation Sans, sans-serif" font-size="7.5" fill="#7d7d7d">Stamford</text>
<text x="560.5" y="176.5" font-family="Liberation Sans, sans-serif" font-size="7.5" fill="#7d7d7d">Peterborough</text>
<text x="342" y="252.5" font-family="Liberation Sans, sans-serif" font-size="7.5" fill="#7d7d7d">Corby</text>
<text x="462.5" y="257.5" font-family="Liberation Sans, sans-serif" font-size="7.5" fill="#7d7d7d">Oundle</text>
<text x="309" y="325" font-family="Liberation Sans, sans-serif" font-size="7.5" fill="#7d7d7d">Kettering &</text>
<text x="292" y="334" font-family="Liberation Sans, sans-serif" font-size="7.5" fill="#7d7d7d">Burton Seagrave</text>
<text x="424.5" y="327" font-family="Liberation Sans, sans-serif" font-size="7.5" fill="#7d7d7d">Thrapston</text>
<text x="440" y="337" font-family="Liberation Sans, sans-serif" font-size="7.5" fill="#7d7d7d">&amp; Islip</text>
<text x="95" y="457.5" font-family="Liberation Sans, sans-serif" font-size="7.5" fill="#7d7d7d">Daventry</text>
<text x="224" y="463" font-family="Liberation Sans, sans-serif" font-size="7.5" fill="#7d7d7d">Northampton</text>
<text x="313.5" y="420.5" font-family="Liberation Sans, sans-serif" font-size="7.5" fill="#7d7d7d">Wellingborough</text>
<text x="403.5" y="417" font-family="Liberation Sans, sans-serif" font-size="7.5" fill="#7d7d7d">Rushden &amp;</text>
<text x="390.5" y="426.5" font-family="Liberation Sans, sans-serif" font-size="7.5" fill="#7d7d7d">Higham Ferrers</text>
<text x="176.5" y="577" font-family="Liberation Sans, sans-serif" font-size="7.5" fill="#7d7d7d">Towcester</text>
<text x="97.3" y="665" font-family="Liberation Sans, sans-serif" font-size="7.5" fill="#7d7d7d">Brackley</text>
<polygon points="481.7,107.0 482.6,109.4 485.2,109.6 483.2,111.2 483.9,113.7 481.7,112.3 479.5,113.7 480.2,111.2 478.2,109.6 480.8,109.4" fill="#d0d0d0" stroke="#111" stroke-width="1" stroke-linejoin="miter"/>
<polygon points="608.7,177.9 609.6,180.3 612.2,180.5 610.2,182.1 610.9,184.6 608.7,183.2 606.5,184.6 607.2,182.1 605.2,180.5 607.8,180.3" fill="#d0d0d0" stroke="#111" stroke-width="1" stroke-linejoin="miter"/>
<polygon points="364.0,253.7 364.9,256.1 367.5,256.3 365.5,257.9 366.2,260.4 364.0,259.0 361.8,260.4 362.5,257.9 360.5,256.3 363.1,256.1" fill="#d0d0d0" stroke="#111" stroke-width="1" stroke-linejoin="miter"/>
<polygon points="489.8,258.6 490.7,261.0 493.3,261.2 491.3,262.8 492.0,265.3 489.8,263.9 487.6,265.3 488.3,262.8 486.3,261.2 488.9,261.0" fill="#d0d0d0" stroke="#111" stroke-width="1" stroke-linejoin="miter"/>
<polygon points="353.2,335.3 354.1,337.7 356.7,337.9 354.7,339.5 355.4,342.0 353.2,340.6 351.0,342.0 351.7,339.5 349.7,337.9 352.3,337.7" fill="#d0d0d0" stroke="#111" stroke-width="1" stroke-linejoin="miter"/>
<polygon points="370.1,421.7 371.0,424.1 373.6,424.3 371.6,425.9 372.3,428.4 370.1,427.0 367.9,428.4 368.6,425.9 366.6,424.3 369.2,424.1" fill="#d0d0d0" stroke="#111" stroke-width="1" stroke-linejoin="miter"/>
<polygon points="424.6,430.7 425.5,433.1 428.1,433.3 426.1,434.9 426.8,437.4 424.6,436.0 422.4,437.4 423.1,434.9 421.1,433.3 423.7,433.1" fill="#d0d0d0" stroke="#111" stroke-width="1" stroke-linejoin="miter"/>
<polygon points="128.8,667.0 129.7,669.4 132.3,669.6 130.3,671.2 131.0,673.7 128.8,672.3 126.6,673.7 127.3,671.2 125.3,669.6 127.9,669.4" fill="#d0d0d0" stroke="#111" stroke-width="1" stroke-linejoin="miter"/>
<polygon points="214.8,579.9 215.7,582.3 218.3,582.5 216.3,584.1 217.0,586.6 214.8,585.2 212.6,586.6 213.3,584.1 211.3,582.5 213.9,582.3" fill="#d0d0d0" stroke="#111" stroke-width="1" stroke-linejoin="miter"/>
<polygon points="464.2,336.9 465.1,339.3 467.7,339.5 465.7,341.1 466.4,343.6 464.2,342.2 462.0,343.6 462.7,341.1 460.7,339.5 463.3,339.3" fill="#d0d0d0" stroke="#111" stroke-width="1" stroke-linejoin="miter"/>
<polygon points="271.3,464.9 272.2,467.3 274.8,467.5 272.8,469.1 273.5,471.6 271.3,470.2 269.1,471.6 269.8,469.1 267.8,467.5 270.4,467.3" fill="#d0d0d0" stroke="#111" stroke-width="1" stroke-linejoin="miter"/>
<g shape-rendering="crispEdges">
<line x1="61.5" y1="34" x2="61.5" y2="725" stroke="#000" stroke-width="1" stroke-dasharray="3 3"/>
<line x1="141.5" y1="34" x2="141.5" y2="725" stroke="#000" stroke-width="1" stroke-dasharray="3 3"/>
<line x1="221.5" y1="34" x2="221.5" y2="725" stroke="#000" stroke-width="1" stroke-dasharray="3 3"/>
<line x1="301.5" y1="34" x2="301.5" y2="725" stroke="#000" stroke-width="1" stroke-dasharray="3 3"/>
<line x1="381.5" y1="34" x2="381.5" y2="725" stroke="#000" stroke-width="1" stroke-dasharray="3 3"/>
<line x1="541.5" y1="34" x2="541.5" y2="725" stroke="#000" stroke-width="1" stroke-dasharray="3 3"/>
<line x1="621.5" y1="34" x2="621.5" y2="725" stroke="#000" stroke-width="1" stroke-dasharray="3 3"/>
<line x1="5" y1="88.5" x2="675" y2="88.5" stroke="#000" stroke-width="1" stroke-dasharray="3 3"/>
<line x1="5" y1="248.5" x2="675" y2="248.5" stroke="#000" stroke-width="1" stroke-dasharray="3 3"/>
<line x1="5" y1="328.5" x2="675" y2="328.5" stroke="#000" stroke-width="1" stroke-dasharray="3 3"/>
<line x1="5" y1="408.5" x2="675" y2="408.5" stroke="#000" stroke-width="1" stroke-dasharray="3 3"/>
<line x1="5" y1="488.5" x2="675" y2="488.5" stroke="#000" stroke-width="1" stroke-dasharray="3 3"/>
<line x1="5" y1="568.5" x2="675" y2="568.5" stroke="#000" stroke-width="1" stroke-dasharray="3 3"/>
<line x1="5" y1="648.5" x2="675" y2="648.5" stroke="#000" stroke-width="1" stroke-dasharray="3 3"/>
<line x1="462" y1="33" x2="462" y2="725" stroke="#000" stroke-width="2"/>
<line x1="6" y1="169" x2="675" y2="169" stroke="#000" stroke-width="2"/>
<rect x="5" y="32" width="671" height="694" fill="none" stroke="#000" stroke-width="2"/>
</g>
<g shape-rendering="crispEdges">
<rect x="430" y="169" width="15" height="16" fill="#18bcee"/>
<rect x="478" y="153" width="15" height="16" fill="#18bcee"/>
<rect x="494" y="169" width="15" height="16" fill="#18bcee"/>
<rect x="558" y="137" width="15" height="16" fill="#18bcee"/>
<rect x="558" y="153" width="15" height="16" fill="#18bcee"/>
<rect x="494" y="281" width="15" height="16" fill="#18bcee"/>
<rect x="366" y="249" width="15" height="16" fill="#18bcee"/>
<rect x="366" y="265" width="15" height="16" fill="#18bcee"/>
<rect x="318" y="409" width="15" height="16" fill="#18bcee"/>
<rect x="414" y="441" width="15" height="16" fill="#18bcee"/>
</g>
<circle cx="469.5" cy="128.5" r="6.5" fill="#ffff00"/>
<circle cx="469.5" cy="160.5" r="6.5" fill="#ffff00"/>
<circle cx="485.5" cy="160.5" r="6.5" fill="#ffff00"/>
<circle cx="437.5" cy="176.5" r="6.5" fill="#ffff00"/>
<circle cx="453.5" cy="176.5" r="6.5" fill="#ffff00"/>
<circle cx="437.5" cy="192.5" r="6.5" fill="#ffff00"/>
<circle cx="453.5" cy="192.5" r="6.5" fill="#ffff00"/>
<circle cx="565.5" cy="160.5" r="6.5" fill="#ffff00"/>
<circle cx="293.5" cy="400.5" r="6.5" fill="#ffff00"/>
<g shape-rendering="crispEdges" fill="#ee0000">
<path d="M463 159h13v4h-13zM468 154h3v13h-3z"/>
<path d="M479 159h13v4h-13zM484 154h3v13h-3z"/>
<path d="M431 175h13v4h-13zM436 170h3v13h-3z"/>
<path d="M447 175h13v4h-13zM452 170h3v13h-3z"/>
<path d="M495 175h13v4h-13zM500 170h3v13h-3z"/>
<path d="M511 175h13v4h-13zM516 170h3v13h-3z"/>
<path d="M495 191h13v4h-13zM500 186h3v13h-3z"/>
<path d="M479 207h13v4h-13zM484 202h3v13h-3z"/>
<path d="M559 127h13v4h-13zM564 122h3v13h-3z"/>
<path d="M543 143h13v4h-13zM548 138h3v13h-3z"/>
<path d="M559 159h13v4h-13zM564 154h3v13h-3z"/>
<path d="M623 159h13v4h-13zM628 154h3v13h-3z"/>
<path d="M479 255h13v4h-13zM484 250h3v13h-3z"/>
<path d="M463 335h13v4h-13zM468 330h3v13h-3z"/>
<path d="M351 319h13v4h-13zM356 314h3v13h-3z"/>
<path d="M319 367h13v4h-13zM324 362h3v13h-3z"/>
<path d="M431 415h13v4h-13zM436 410h3v13h-3z"/>
<path d="M191 415h13v4h-13zM196 410h3v13h-3z"/>
<path d="M287 399h13v4h-13zM292 394h3v13h-3z"/>
<path d="M111 463h13v4h-13zM116 458h3v13h-3z"/>
<path d="M271 463h13v4h-13zM276 458h3v13h-3z"/>
<path d="M319 479h13v4h-13zM324 474h3v13h-3z"/>
<path d="M367 479h13v4h-13zM372 474h3v13h-3z"/>
<path d="M383 495h13v4h-13zM388 490h3v13h-3z"/>
<path d="M207 511h13v4h-13zM212 506h3v13h-3z"/>
<path d="M319 511h13v4h-13zM324 506h3v13h-3z"/>
<path d="M319 527h13v4h-13zM324 522h3v13h-3z"/>
<path d="M335 527h13v4h-13zM340 522h3v13h-3z"/>
<path d="M335 543h13v4h-13zM340 538h3v13h-3z"/>
<path d="M271 639h13v4h-13zM276 634h3v13h-3z"/>
<path d="M31 639h13v4h-13zM36 634h3v13h-3z"/>
<path d="M47 639h13v4h-13zM52 634h3v13h-3z"/>
<path d="M63 639h13v4h-13zM68 634h3v13h-3z"/>
<path d="M79 639h13v4h-13zM84 634h3v13h-3z"/>
<path d="M127 655h13v4h-13zM132 650h3v13h-3z"/>
<path d="M95 671h13v4h-13zM100 666h3v13h-3z"/>
<path d="M127 687h13v4h-13zM132 682h3v13h-3z"/>
</g>
<text x="12.3" y="55.8" font-family="Liberation Serif, serif" font-size="24.5" fill="#dd1111">SK</text>
<text x="463.8" y="56" font-family="Liberation Serif, serif" font-size="24.5" fill="#dd1111">TF</text>
<text x="12.3" y="673.6" font-family="Liberation Serif, serif" font-size="24.5" fill="#dd1111">SP</text>
<text x="468" y="671.8" font-family="Liberation Serif, serif" font-size="24.5" fill="#dd1111">TL</text>
<text x="13" y="81.5" font-family="Liberation Serif, serif" font-size="20" fill="#000">1</text>
<text x="13" y="161.5" font-family="Liberation Serif, serif" font-size="20" fill="#000">0</text>
<text x="13" y="241.5" font-family="Liberation Serif, serif" font-size="20" fill="#000">9</text>
<text x="13" y="321.5" font-family="Liberation Serif, serif" font-size="20" fill="#000">8</text>
<text x="13" y="401.5" font-family="Liberation Serif, serif" font-size="20" fill="#000">7</text>
<text x="13" y="481.5" font-family="Liberation Serif, serif" font-size="20" fill="#000">6</text>
<text x="13" y="561.5" font-family="Liberation Serif, serif" font-size="20" fill="#000">5</text>
<text x="13" y="641.5" font-family="Liberation Serif, serif" font-size="20" fill="#000">4</text>
<text x="68.8" y="718.5" font-family="Liberation Serif, serif" font-size="20" fill="#000">5</text>
<text x="148.8" y="718.5" font-family="Liberation Serif, serif" font-size="20" fill="#000">6</text>
<text x="228.8" y="718.5" font-family="Liberation Serif, serif" font-size="20" fill="#000">7</text>
<text x="308.8" y="718.5" font-family="Liberation Serif, serif" font-size="20" fill="#000">8</text>
<text x="388.8" y="718.5" font-family="Liberation Serif, serif" font-size="20" fill="#000">9</text>
<text x="468.8" y="718.5" font-family="Liberation Serif, serif" font-size="20" fill="#000">0</text>
<text x="548.8" y="718.5" font-family="Liberation Serif, serif" font-size="20" fill="#000">1</text>
<text x="628.8" y="718.5" font-family="Liberation Serif, serif" font-size="20" fill="#000">2</text>
<text x="5" y="21" font-family="Liberation Serif, serif" font-size="24" fill="#000">73.032 Colocasia coryli (Nut-tree Tussock)</text>
<text x="680" y="64" font-family="Liberation Serif, serif" font-size="35" fill="#000">Key:</text>
<rect x="689" y="79" width="13" height="13" fill="#19bff2"/>
<circle cx="696.5" cy="115.5" r="6.5" fill="#ffff00"/>
<path d="M690 143h13v3h-13zM695 138h3v13h-3z" fill="#e60000"/>
<text x="712" y="90.7" font-family="Liberation Serif, serif" font-size="21.2" fill="#000">Records Prior to 1980</text>
<text x="712" y="120.6" font-family="Liberation Serif, serif" font-size="21.2" fill="#000">Records 1980 - 1999</text>
<text x="712" y="149.7" font-family="Liberation Serif, serif" font-size="21.2" fill="#000">Records Since 2000</text>
<text x="683" y="203" font-family="Liberation Serif, serif" font-size="35" fill="#000">Useful Data:</text>
<text x="684" y="229.7" font-family="Liberation Serif, serif" font-size="21" fill="#000">First Recorded in 1887</text>
<text x="684" y="257" font-family="Liberation Serif, serif" font-size="21" fill="#000">Last Recorded in 2024</text>
<text x="684" y="284.5" font-family="Liberation Serif, serif" font-size="21" fill="#000">342 Records</text>
<text x="684" y="312.2" font-family="Liberation Serif, serif" font-size="21" fill="#000">Status: LC</text>
<text x="684" y="395.5" font-family="Liberation Serif, serif" font-size="35" fill="#000">Flight Period:</text>
<g shape-rendering="crispEdges">
<rect x="684.5" y="408.5" width="438" height="318" fill="#fff" stroke="#000" stroke-width="1"/>
<line x1="684" y1="689.5" x2="1123" y2="689.5" stroke="#000" stroke-width="1"/>
<line x1="720.5" y1="689" x2="720.5" y2="697" stroke="#000" stroke-width="1"/>
<line x1="757.5" y1="689" x2="757.5" y2="697" stroke="#000" stroke-width="1"/>
<line x1="793.5" y1="689" x2="793.5" y2="697" stroke="#000" stroke-width="1"/>
<line x1="830.5" y1="689" x2="830.5" y2="697" stroke="#000" stroke-width="1"/>
<line x1="866.5" y1="689" x2="866.5" y2="697" stroke="#000" stroke-width="1"/>
<line x1="903.5" y1="689" x2="903.5" y2="697" stroke="#000" stroke-width="1"/>
<line x1="939.5" y1="689" x2="939.5" y2="697" stroke="#000" stroke-width="1"/>
<line x1="976.5" y1="689" x2="976.5" y2="697" stroke="#000" stroke-width="1"/>
<line x1="1012.5" y1="689" x2="1012.5" y2="697" stroke="#000" stroke-width="1"/>
<line x1="1049.5" y1="689" x2="1049.5" y2="697" stroke="#000" stroke-width="1"/>
<line x1="1085.5" y1="689" x2="1085.5" y2="697" stroke="#000" stroke-width="1"/>
<text x="703.75" y="709" text-anchor="middle" font-family="Liberation Mono, monospace" font-size="11.67" fill="#000">Jan</text>
<text x="740.25" y="709" text-anchor="middle" font-family="Liberation Mono, monospace" font-size="11.67" fill="#000">Feb</text>
<text x="776.75" y="709" text-anchor="middle" font-family="Liberation Mono, monospace" font-size="11.67" fill="#000">Mar</text>
<text x="813.25" y="709" text-anchor="middle" font-family="Liberation Mono, monospace" font-size="11.67" fill="#000">Apr</text>
<text x="849.75" y="709" text-anchor="middle" font-family="Liberation Mono, monospace" font-size="11.67" fill="#000">May</text>
<text x="886.25" y="709" text-anchor="middle" font-family="Liberation Mono, monospace" font-size="11.67" fill="#000">Jun</text>
<text x="922.75" y="709" text-anchor="middle" font-family="Liberation Mono, monospace" font-size="11.67" fill="#000">Jly</text>
<text x="959.25" y="709" text-anchor="middle" font-family="Liberation Mono, monospace" font-size="11.67" fill="#000">Aug</text>
<text x="995.75" y="709" text-anchor="middle" font-family="Liberation Mono, monospace" font-size="11.67" fill="#000">Sep</text>
<text x="1032.25" y="709" text-anchor="middle" font-family="Liberation Mono, monospace" font-size="11.67" fill="#000">Oct</text>
<text x="1068.75" y="709" text-anchor="middle" font-family="Liberation Mono, monospace" font-size="11.67" fill="#000">Nov</text>
<text x="1105.25" y="709" text-anchor="middle" font-family="Liberation Mono, monospace" font-size="11.67" fill="#000">Dec</text>
<text x="692.5" y="424.5" font-family="Liberation Mono, monospace" font-size="11.67" fill="#000" xml:space="preserve">Records max of 39 in week 19</text>
<rect x="793.5" y="677.5" width="9" height="12" fill="#fff" stroke="#000" stroke-width="1"/>
<rect x="802.5" y="659.5" width="8" height="30" fill="#fff" stroke="#000" stroke-width="1"/>
<rect x="810.5" y="609.5" width="9" height="80" fill="#fff" stroke="#000" stroke-width="1"/>
<rect x="819.5" y="578.5" width="8" height="111" fill="#fff" stroke="#000" stroke-width="1"/>
<rect x="827.5" y="498.5" width="9" height="191" fill="#fff" stroke="#000" stroke-width="1"/>
<rect x="836.5" y="448.5" width="8" height="241" fill="#fff" stroke="#000" stroke-width="1"/>
<rect x="844.5" y="516.5" width="8" height="173" fill="#fff" stroke="#000" stroke-width="1"/>
<rect x="852.5" y="485.5" width="9" height="204" fill="#fff" stroke="#000" stroke-width="1"/>
<rect x="861.5" y="560.5" width="8" height="129" fill="#fff" stroke="#000" stroke-width="1"/>
<rect x="869.5" y="628.5" width="9" height="61" fill="#fff" stroke="#000" stroke-width="1"/>
<rect x="878.5" y="640.5" width="8" height="49" fill="#fff" stroke="#000" stroke-width="1"/>
<rect x="886.5" y="677.5" width="9" height="12" fill="#fff" stroke="#000" stroke-width="1"/>
<rect x="903.5" y="683.5" width="8" height="6" fill="#fff" stroke="#000" stroke-width="1"/>
<rect x="911.5" y="646.5" width="9" height="43" fill="#fff" stroke="#000" stroke-width="1"/>
<rect x="920.5" y="498.5" width="8" height="191" fill="#fff" stroke="#000" stroke-width="1"/>
<rect x="928.5" y="498.5" width="9" height="191" fill="#fff" stroke="#000" stroke-width="1"/>
<rect x="937.5" y="584.5" width="8" height="105" fill="#fff" stroke="#000" stroke-width="1"/>
<rect x="945.5" y="621.5" width="9" height="68" fill="#fff" stroke="#000" stroke-width="1"/>
<rect x="954.5" y="671.5" width="8" height="18" fill="#fff" stroke="#000" stroke-width="1"/>
<rect x="962.5" y="677.5" width="8" height="12" fill="#fff" stroke="#000" stroke-width="1"/>
</g>
</svg>
</body></html>
